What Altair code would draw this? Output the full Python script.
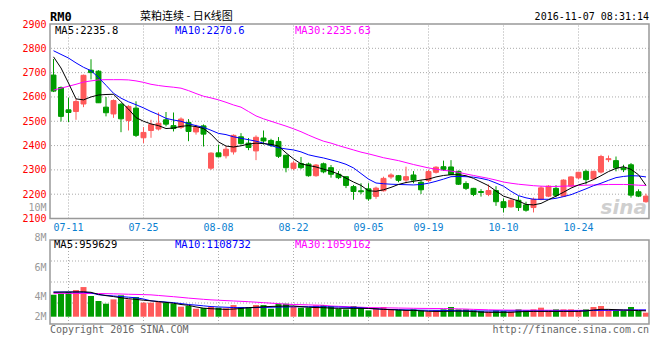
import altair as alt
import pandas as pd

# ---------------- data ----------------
opens = [2690, 2639, 2547, 2540, 2571, 2710, 2706, 2558, 2530, 2570,
         2503, 2554, 2432, 2462, 2468, 2506, 2482, 2475, 2495, 2456,
         2481, 2307, 2370, 2358, 2374, 2436, 2410, 2378, 2431, 2421,
         2417, 2360, 2306, 2326, 2324, 2276, 2325, 2309, 2282, 2272,
         2231, 2214, 2222, 2191, 2214, 2271, 2276, 2258, 2279, 2249,
         2256, 2290, 2313, 2312, 2294, 2244, 2224, 2211, 2199, 2215,
         2169, 2148, 2175, 2156, 2145, 2179, 2192, 2224, 2192, 2233,
         2267, 2294, 2263, 2291, 2342, 2338, 2308, 2321, 2210, 2169]
highs = [2756, 2643, 2597, 2592, 2692, 2755, 2710, 2600, 2590, 2575,
         2566, 2582, 2476, 2506, 2536, 2538, 2536, 2516, 2509, 2486,
         2487, 2372, 2404, 2398, 2446, 2451, 2431, 2442, 2462, 2428,
         2435, 2362, 2336, 2353, 2330, 2324, 2330, 2320, 2295, 2274,
         2238, 2245, 2245, 2231, 2272, 2286, 2279, 2313, 2295, 2258,
         2300, 2315, 2338, 2340, 2297, 2253, 2226, 2221, 2240, 2233,
         2183, 2180, 2192, 2169, 2186, 2233, 2237, 2237, 2261, 2274,
         2292, 2301, 2296, 2362, 2359, 2355, 2321, 2328, 2220, 2202]
lows = [2620, 2499, 2497, 2506, 2558, 2672, 2575, 2520, 2514, 2455,
        2462, 2435, 2410, 2432, 2462, 2479, 2458, 2468, 2418, 2445,
        2396, 2300, 2352, 2347, 2363, 2404, 2381, 2340, 2404, 2394,
        2349, 2290, 2299, 2303, 2272, 2272, 2286, 2268, 2262, 2225,
        2177, 2200, 2173, 2181, 2211, 2263, 2249, 2245, 2245, 2201,
        2250, 2285, 2296, 2279, 2238, 2217, 2192, 2190, 2192, 2152,
        2125, 2145, 2131, 2128, 2125, 2175, 2188, 2187, 2190, 2230,
        2262, 2240, 2258, 2285, 2332, 2294, 2291, 2186, 2188, 2165]
closes = [2624, 2520, 2536, 2581, 2689, 2700, 2576, 2535, 2585, 2510,
          2561, 2442, 2454, 2486, 2492, 2488, 2470, 2509, 2458, 2475,
          2447, 2369, 2354, 2385, 2442, 2408, 2392, 2434, 2419, 2401,
          2356, 2309, 2328, 2309, 2276, 2320, 2292, 2282, 2268, 2236,
          2211, 2210, 2181, 2225, 2265, 2279, 2257, 2272, 2258, 2218,
          2293, 2311, 2302, 2281, 2241, 2224, 2199, 2207, 2215, 2169,
          2145, 2175, 2145, 2134, 2179, 2226, 2233, 2195, 2258, 2271,
          2290, 2260, 2294, 2355, 2346, 2308, 2301, 2196, 2192, 2192]
ma5 = [2765, 2719, 2657, 2592, 2588, 2600, 2608, 2610, 2611, 2580,
       2550, 2515, 2500, 2489, 2482, 2470, 2472, 2479, 2482, 2478,
       2470, 2447, 2415, 2398, 2394, 2399, 2406, 2410, 2408, 2405,
       2398, 2370, 2345, 2325, 2318, 2312, 2303, 2294, 2283, 2266,
       2250, 2236, 2214, 2212, 2218, 2228, 2240, 2248, 2253, 2258,
       2262, 2271, 2277, 2280, 2280, 2276, 2265, 2250, 2235, 2213,
       2192, 2182, 2172, 2158, 2156, 2162, 2177, 2192, 2208, 2225,
       2238, 2247, 2260, 2276, 2293, 2306, 2313, 2302, 2280, 2236]
ma10 = [2790, 2775, 2760, 2740, 2722, 2708, 2680, 2648, 2615, 2595,
        2580, 2568, 2555, 2540, 2527, 2512, 2505, 2500, 2490, 2482,
        2475, 2463, 2450, 2445, 2436, 2430, 2424, 2418, 2410, 2400,
        2391, 2386, 2382, 2374, 2362, 2355, 2349, 2341, 2333, 2323,
        2308, 2285, 2262, 2246, 2243, 2241, 2240, 2239, 2238, 2240,
        2245, 2253, 2262, 2272, 2273, 2272, 2270, 2265, 2258, 2246,
        2233, 2212, 2194, 2185, 2179, 2179, 2179, 2183, 2190, 2198,
        2210, 2222, 2235, 2245, 2257, 2268, 2273, 2276, 2275, 2271]
ma30 = [2628, 2636, 2644, 2652, 2661, 2666, 2670, 2671, 2671, 2671,
        2670, 2666, 2660, 2652, 2647, 2643, 2640, 2636, 2626, 2614,
        2603, 2596, 2588, 2578, 2567, 2558, 2540, 2522, 2510, 2500,
        2490, 2480, 2469, 2457, 2443, 2430, 2418, 2410, 2400, 2391,
        2382, 2373, 2366, 2358, 2350, 2344, 2338, 2330, 2322, 2315,
        2308, 2303, 2298, 2295, 2290, 2283, 2277, 2271, 2265, 2258,
        2250, 2245, 2241, 2238, 2235, 2233, 2232, 2232, 2233, 2234,
        2236, 2237, 2238, 2239, 2240, 2240, 2240, 2239, 2237, 2236]
# volumes in millions
volumes_m = [3.6, 3.77, 4.05, 4.37, 4.86, 3.39, 2.57, 2.13, 2.84, 3.5,
             2.84, 3.22, 2.3, 2.3, 2.4, 2.3, 2.13, 1.64, 1.75, 1.31,
             1.42, 1.64, 1.48, 1.37, 1.91, 1.59, 1.59, 1.91, 1.91, 1.31,
             2.13, 2.13, 1.59, 1.48, 1.48, 1.86, 1.91, 1.75, 1.31, 1.2,
             1.75, 1.48, 1.04, 1.37, 1.59, 1.2, 1.1, 1.1, 1.2, 1.04,
             0.82, 1.04, 1.2, 1.59, 1.2, 1.2, 1.04, 0.93, 0.82, 1.04,
             0.93, 0.82, 1.2, 1.04, 1.2, 1.48, 1.04, 1.2, 1.2, 1.2,
             1.04, 1.2, 1.59, 1.75, 1.2, 1.04, 1.04, 1.59, 0.93, 0.66]
vma5 = [4.0, 4.02, 4.04, 4.06, 4.08, 4.0, 3.66, 3.45, 3.3, 3.1,
        2.95, 2.84, 2.7, 2.6, 2.46, 2.35, 2.2, 2.0, 1.86, 1.6,
        1.4, 1.31, 1.25, 1.2, 1.25, 1.35, 1.48, 1.55, 1.62, 1.68,
        1.72, 1.75, 1.75, 1.65, 1.55, 1.5, 1.48, 1.4, 1.37, 1.37,
        1.37, 1.37, 1.35, 1.3, 1.2, 1.15, 1.1, 1.04, 1.04, 0.95,
        0.88, 0.87, 0.87, 0.9, 0.92, 0.9, 0.85, 0.75, 0.72, 0.71,
        0.71, 0.72, 0.8, 0.85, 0.87, 0.87, 0.87, 0.87, 0.87, 0.87,
        0.87, 0.95, 1.1, 1.2, 1.2, 1.15, 1.1, 1.05, 1.0, 0.96]
vma10 = [4.05, 4.05, 4.05, 4.04, 4.02, 3.9, 3.6, 3.5, 3.4, 3.3,
         3.2, 3.1, 2.9, 2.6, 2.5, 2.4, 2.3, 2.15, 2.0, 1.9,
         1.78, 1.66, 1.6, 1.55, 1.5, 1.48, 1.48, 1.5, 1.52, 1.55,
         1.58, 1.6, 1.62, 1.64, 1.64, 1.64, 1.62, 1.6, 1.58, 1.55,
         1.5, 1.45, 1.35, 1.28, 1.22, 1.18, 1.15, 1.12, 1.1, 1.07,
         1.05, 1.04, 1.04, 1.0, 0.97, 0.95, 0.94, 0.93, 0.93, 0.93,
         0.93, 0.93, 0.93, 0.93, 0.93, 0.93, 0.93, 0.93, 0.93, 0.94,
         0.95, 0.98, 1.02, 1.05, 1.07, 1.08, 1.09, 1.1, 1.11, 1.11]
vma30 = [3.83, 3.83, 3.82, 3.82, 3.81, 3.8, 3.8, 3.78, 3.75, 3.72,
         3.68, 3.65, 3.62, 3.58, 3.48, 3.38, 3.28, 3.17, 3.05, 2.95,
         2.85, 2.76, 2.7, 2.64, 2.58, 2.52, 2.46, 2.38, 2.3, 2.22,
         2.14, 2.05, 2.0, 1.97, 1.94, 1.9, 1.87, 1.75, 1.7, 1.65,
         1.6, 1.55, 1.5, 1.48, 1.46, 1.44, 1.42, 1.4, 1.38, 1.36,
         1.35, 1.34, 1.33, 1.31, 1.28, 1.25, 1.2, 1.17, 1.13, 1.1,
         1.09, 1.08, 1.08, 1.07, 1.07, 1.06, 1.06, 1.05, 1.05, 1.04,
         1.04, 1.04, 1.05, 1.05, 1.05, 1.05, 1.06, 1.06, 1.06, 1.06]

date_idx = [2, 12, 22, 32, 42, 50, 60, 70]
date_labels = ["07-11", "07-25", "08-08", "08-22", "09-05", "09-19", "10-10", "10-24"]
price_ticks = [2100, 2200, 2300, 2400, 2500, 2600, 2700, 2800, 2900]
price_grid = [2200, 2300, 2400, 2500, 2600, 2700, 2800]
vol_tick_labels = ["2M", "4M", "6M", "8M", "10M"]

# ---------------- layout ----------------
MONO = "DejaVu Sans Mono"
CJK = "Noto Sans CJK SC"
RED = "#ff5a5a"
GREEN = "#009c00"
GRID = "#aaaaaa"
BORDER = "#999999"

W, H = 599, 300
SLOT = 7.5
FIRST = 3.5
X_LO = -FIRST / SLOT
X_HI = X_LO + W / SLOT

P_TOP, P_BOTTOM = 2900, 2100
PRICE_PANEL_H = 194.5
K = PRICE_PANEL_H / (P_TOP - P_BOTTOM)
P_LO = P_TOP - H / K

VOL_BASE_Y = 292.7
KV = 6.1
V_HI = VOL_BASE_Y / KV
V_LO = -(H - VOL_BASE_Y) / KV
VOL_PANEL_TOP_Y = 216
V_PANEL_TOP = (VOL_BASE_Y - VOL_PANEL_TOP_Y) / KV
vol_grid = [(VOL_BASE_Y - (VOL_PANEL_TOP_Y + f * (H - VOL_PANEL_TOP_Y))) / KV for f in (0.25, 0.5, 0.75)]
vol_label_px = [292, 272, 243, 213, 183]
vol_label_vals = [(VOL_BASE_Y - y) / KV for y in vol_label_px]

expr = "'" + vol_tick_labels[-1] + "'"
for j in range(len(vol_label_vals) - 2, -1, -1):
    mid = (vol_label_vals[j] + vol_label_vals[j + 1]) / 2
    expr = f"datum.value < {mid:.3f} ? '{vol_tick_labels[j]}' : ({expr})"

df = pd.DataFrame({
    "i": list(range(len(closes))), "open": opens, "high": highs, "low": lows,
    "close": closes, "vol": volumes_m, "ma5": ma5, "ma10": ma10, "ma30": ma30,
    "vma5": vma5, "vma10": vma10, "vma30": vma30,
})
dates_df = pd.DataFrame({"idx": date_idx, "label": date_labels})

x_scale = alt.Scale(domain=[X_LO, X_HI], nice=False, zero=False)
p_scale = alt.Scale(domain=[P_LO, P_TOP], nice=False, zero=False)
v_scale = alt.Scale(domain=[V_LO, V_HI], nice=False, zero=False)
col_scale = alt.Scale(domain=["up", "down"], range=[RED, GREEN])

price_axis = alt.Axis(values=price_ticks, orient="left", title=None, grid=False, ticks=False,
                      domain=False, labelColor="#ff0000", labelFont=MONO, labelFontSize=10,
                      labelPadding=4, labelOverlap=False, labelFlush=False, format="d")
vol_axis = alt.Axis(values=vol_label_vals, orient="left", title=None, grid=False, ticks=False,
                    domain=False, labelColor="#999999", labelFont=MONO, labelFontSize=10,
                    labelPadding=4, labelOverlap=False, labelFlush=False, labelExpr=expr)


def X(f):
    return alt.X(f, type="quantitative", scale=x_scale, axis=None)


def PY(f):
    return alt.Y(f, type="quantitative", scale=p_scale, axis=price_axis)


def VY(f):
    return alt.Y(f, type="quantitative", scale=v_scale, axis=vol_axis)


base = alt.Chart(df).transform_calculate(
    dir="datum.close >= datum.open ? 'up' : 'down'",
    bx1="datum.i - 0.33", bx2="datum.i + 0.33",
    vx1="datum.i - 0.4", vx2="datum.i + 0.4",
    zero="0",
)

# ---- price panel ----
p_hgrid = alt.Chart(pd.DataFrame({"lvl": price_grid})).mark_rule(
    color=GRID, strokeDash=[1, 2], strokeWidth=1).encode(y=PY("lvl"))
p_vgrid = alt.Chart(dates_df).transform_calculate(lo=str(P_BOTTOM), hi=str(P_TOP)).mark_rule(
    color=GRID, strokeDash=[1, 2], strokeWidth=1).encode(x=X("idx"), y=PY("lo"), y2="hi:Q")
wicks = base.mark_rule(strokeWidth=1).encode(
    x=X("i"), y=PY("low"), y2="high:Q",
    color=alt.Color("dir:N", scale=col_scale, legend=None))
bodies = base.mark_rect(strokeWidth=1).encode(
    x=X("bx1"), x2="bx2:Q", y=PY("open"), y2="close:Q",
    color=alt.Color("dir:N", scale=col_scale, legend=None),
    stroke=alt.Stroke("dir:N", scale=col_scale, legend=None))
l_ma30 = base.mark_line(color="#ff00ff", strokeWidth=1).encode(x=X("i"), y=PY("ma30"))
l_ma10 = base.mark_line(color="#0000ff", strokeWidth=1).encode(x=X("i"), y=PY("ma10"))
l_ma5 = base.mark_line(color="#000000", strokeWidth=1).encode(x=X("i"), y=PY("ma5"))
p_box = alt.Chart(pd.DataFrame({"a": [X_LO], "b": [X_HI], "c": [P_BOTTOM], "d": [P_TOP]})).mark_rect(
    fillOpacity=0, stroke=BORDER, strokeWidth=1.5).encode(x=X("a"), x2="b:Q", y=PY("c"), y2="d:Q")

price_layer = alt.layer(p_hgrid, p_vgrid, wicks, bodies, l_ma30, l_ma10, l_ma5, p_box)

# ---- volume panel ----
v_hgrid = alt.Chart(pd.DataFrame({"lvl": vol_grid})).mark_rule(
    color=GRID, strokeDash=[1, 2], strokeWidth=1).encode(y=VY("lvl"))
v_vgrid = alt.Chart(dates_df).transform_calculate(lo=str(V_LO), hi=str(V_PANEL_TOP)).mark_rule(
    color=GRID, strokeDash=[1, 2], strokeWidth=1).encode(x=X("idx"), y=VY("lo"), y2="hi:Q")
vbars = base.mark_rect().encode(
    x=X("vx1"), x2="vx2:Q", y=VY("zero"), y2="vol:Q",
    color=alt.Color("dir:N", scale=col_scale, legend=None))
lv30 = base.mark_line(color="#ff00ff", strokeWidth=1).encode(x=X("i"), y=VY("vma30"))
lv10 = base.mark_line(color="#0000ff", strokeWidth=1).encode(x=X("i"), y=VY("vma10"))
lv5 = base.mark_line(color="#000000", strokeWidth=1).encode(x=X("i"), y=VY("vma5"))
v_box = alt.Chart(pd.DataFrame({"a": [X_LO], "b": [X_HI], "c": [V_LO], "d": [V_PANEL_TOP]})).mark_rect(
    fillOpacity=0, stroke=BORDER, strokeWidth=1.5).encode(x=X("a"), x2="b:Q", y=VY("c"), y2="d:Q")

vol_layer = alt.layer(v_hgrid, v_vgrid, vbars, lv30, lv10, lv5, v_box)


# ---- texts ----
def label(text, x, y, color="#000000", size=11, font=MONO, align="left", weight="normal",
          style="normal", baseline="middle"):
    return alt.Chart(pd.DataFrame({"t": [text]})).mark_text(
        align=align, baseline=baseline, font=font, fontSize=size, color=color,
        fontWeight=weight, fontStyle=style).encode(x=alt.value(x), y=alt.value(y), text="t:N")


date_text = alt.Chart(dates_df).mark_text(
    color="#0a80d0", font=MONO, fontSize=10, baseline="middle").encode(
    x=X("idx"), y=alt.value(204), text="label:N")

texts = alt.layer(
    date_text,
    label("RM0", 0, -7, size=12, weight="bold"),
    label("菜粕连续 - 日K线图", 90, -7, size=11, font=CJK),
    label("2016-11-07 08:31:14", W, -7, size=10, align="right"),
    label("MA5:2235.8", 5, 7, size=10.5),
    label("MA10:2270.6", 125, 7, size=10.5, color="#0000ff"),
    label("MA30:2235.63", 245, 7, size=10.5, color="#ff00ff"),
    label("MA5:959629", 4, 221, size=10.5),
    label("MA10:1108732", 125, 221, size=10.5, color="#0000ff"),
    label("MA30:1059162", 245, 221, size=10.5, color="#ff00ff"),
    label("Copyright 2016 SINA.COM", 0, 305.5, color="#666666", size=10),
    label("http://finance.sina.com.cn", W, 305.5, color="#666666", size=10, align="right"),
    label("sina", W - 2, 190, color="#cfcfcf", size=20, font="DejaVu Sans", align="right",
          weight="bold", style="italic", baseline="alphabetic"),
)

chart = alt.layer(price_layer, vol_layer, texts).resolve_scale(y="independent").properties(
    width=W, height=H,
    padding={"left": 42, "top": 16, "right": 3, "bottom": 28},
    autosize=alt.AutoSizeParams(type="none"),
    background="white",
).configure_view(stroke=None)

chart.save("out.html", embed_options={"renderer": "svg", "actions": False})
